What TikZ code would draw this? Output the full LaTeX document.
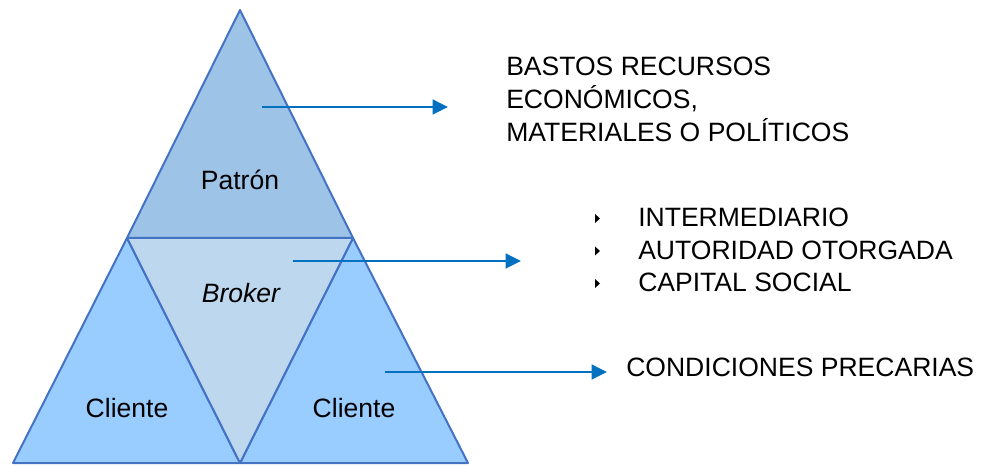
\documentclass[tikz,border=0pt]{standalone}
\usepackage{fontspec}
\setmainfont{Liberation Sans}
\usetikzlibrary{arrows.meta}

\definecolor{patronfill}{HTML}{9DC3E6}
\definecolor{brokerfill}{HTML}{BDD7EE}
\definecolor{clientefill}{HTML}{99CCFF}
\definecolor{edgeblue}{HTML}{4472C4}
\definecolor{arrowblue}{HTML}{0070C0}

\begin{document}
\begin{tikzpicture}[x=0.75pt,y=0.75pt,yscale=-1,xscale=1,
    tri/.style={draw=edgeblue, line width=1.5pt, line join=round},
    lbl/.style={inner sep=0pt, font=\fontsize{19.9}{25.1}\selectfont},
    pointer/.style={draw=arrowblue, line width=1.8pt, -{Triangle[length=11.5pt,width=11pt]}}]
            \useasboundingbox (0,0) rectangle (992,466);

            % corners of the pyramid
            \coordinate (apex) at (240,10);
            \coordinate (tl) at (127,238);
            \coordinate (tr) at (353,238);
            \coordinate (bl) at (13,463);
            \coordinate (bm) at (240,463);
            \coordinate (br) at (468,463);

            %Shape: Triangles
            \draw [tri, fill=clientefill] (tl) -- (bm) -- (bl) -- cycle ;
            \draw [tri, fill=clientefill] (tr) -- (br) -- (bm) -- cycle ;
            \draw [tri, fill=brokerfill] (tl) -- (tr) -- (bm) -- cycle ;
            \draw [tri, fill=patronfill] (apex) -- (tr) -- (tl) -- cycle ;

            % Text Node
            \node [lbl, anchor=base] (patron) at (240,190) {Patrón};
            % Text Node
            \node [lbl, anchor=base] (broker) at (241,303) {\itshape Broker};
            % Text Node
            \node [lbl, anchor=base] (clienteA) at (127,417) {Cliente};
            % Text Node
            \node [lbl, anchor=base] (clienteB) at (354,417) {Cliente};

            % Text Node (base = last line)
            \node [lbl, anchor=base west, align=left] (recursos) at (506,142) {BASTOS RECURSOS\\ECONÓMICOS,\\MATERIALES O POLÍTICOS};
            % Bullet list
            \foreach \i/\txt in {0/INTERMEDIARIO, 1/AUTORIDAD OTORGADA, 2/CAPITAL SOCIAL}{
                \node [lbl, anchor=base west] (item\i) at (638,227+32.5*\i) {\txt};
                \fill (595,214+32.5*\i) -- (600,218.5+32.5*\i) -- (595,223+32.5*\i) -- cycle ;
            }
            % Text Node
            \node [lbl, anchor=base west] (precarias) at (626,377) {CONDICIONES PRECARIAS};

            %Straight Lines
            \coordinate (p1) at (262,107);
            \coordinate (q1) at (448,107);
            \coordinate (p2) at (293,261);
            \coordinate (q2) at (521,261);
            \coordinate (p3) at (385,372);
            \coordinate (q3) at (607,372);
            \draw [pointer] (p1) -- (q1) ;
            \draw [pointer] (p2) -- (q2) ;
            \draw [pointer] (p3) -- (q3) ;

\end{tikzpicture}
\end{document}
